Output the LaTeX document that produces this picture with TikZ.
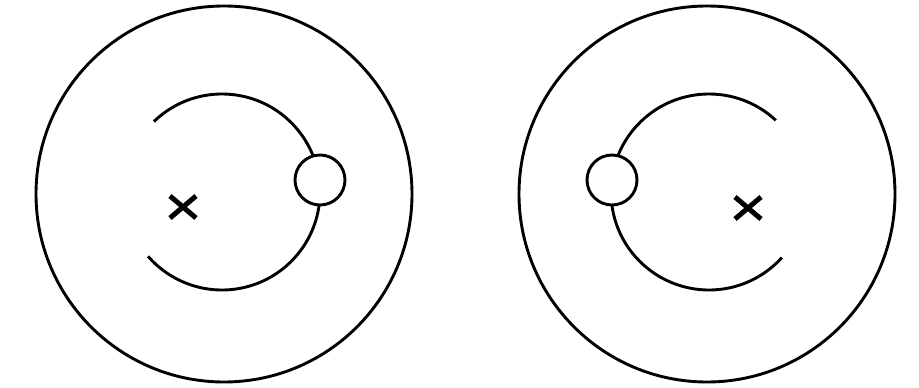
\documentclass[tikz,border=0pt]{standalone}
\usetikzlibrary{calc}
\begin{document}
\begin{tikzpicture}[x=1pt,y=-1pt,
  line/.style={line width=2.9pt, black},
  bigring/.style={circle, draw, line width=2.9pt, inner sep=0pt, minimum size=376pt},
  bead/.style={circle, draw, fill=white, line width=2.9pt, inner sep=0pt, minimum size=50pt},
  cross/.style={line width=5pt, black}]
\useasboundingbox[fill=white] (0,0) rectangle (919,388);
% left panel
\node[bigring] (bigL) at (224,194) {};
\coordinate (cL) at (222,192);
\draw[line] (cL) ++(-134:98) arc[start angle=-134, end angle=139, radius=98];
\node[bead] (beadL) at (320,180) {};
\coordinate (xL) at (183,207);
\draw[cross] ($(xL)+(-13,-11)$) coordinate (xL1) -- ($(xL)+(13,11)$) coordinate (xL2);
\draw[cross] ($(xL)+(13,-11)$) coordinate (xL3) -- ($(xL)+(-13,11)$) coordinate (xL4);
% right panel
\node[bigring] (bigR) at (707,194) {};
\coordinate (cR) at (709,192);
\draw[line] (cR) ++(-47:98) arc[start angle=-47, end angle=-318, radius=98];
\node[bead] (beadR) at (612,180) {};
\coordinate (xR) at (748,208);
\draw[cross] ($(xR)+(-13,-11)$) coordinate (xR1) -- ($(xR)+(13,11)$) coordinate (xR2);
\draw[cross] ($(xR)+(13,-11)$) coordinate (xR3) -- ($(xR)+(-13,11)$) coordinate (xR4);
\end{tikzpicture}
\end{document}
